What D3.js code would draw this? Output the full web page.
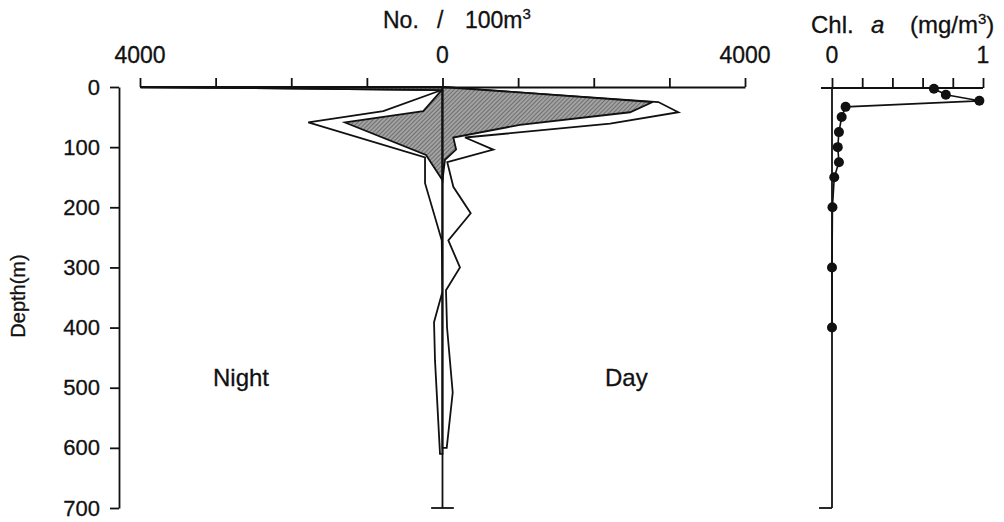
<!DOCTYPE html>
<html><head><meta charset="utf-8">
<script src="https://cdn.jsdelivr.net/npm/d3@7"></script>
<style>
body{margin:0;background:#fff}
text{font-family:"Liberation Sans",Arial,Helvetica,sans-serif;fill:#111;stroke:#111;stroke-width:0.3px}
</style>
</head><body>
<svg id="c" width="1004" height="522"></svg>
<script>
// ---- data ----
const nightTotalDepth  = [0, 5, 40, 59, 117, 160, 255, 340, 391, 455, 610];
const nightTotal       = [4000, 10, 783, 1775, 231, 231, 10, 0, 112, 99, 33];
const nightShadedDepth = [0, 5, 40, 59, 113, 155];
const nightShaded      = [4000, 10, 254, 1290, 218, 0];
const dayTotalDepth    = [0, 25, 42, 61, 84, 104, 125, 166, 210, 255, 300, 338, 400, 508, 600];
const dayTotal         = [0, 2854, 3119, 2216, 298, 672, 63, 143, 373, 77, 231, 46, 60, 135, 56];
const dayShadedDepth   = [0, 25, 42, 63, 84, 104, 121, 155];
const dayShaded        = [0, 2780, 2480, 1025, 143, 180, 33, 0];
const chlDepth = [3, 13, 23, 33, 50, 75, 100, 125, 150, 200, 300, 400];
const chlValue = [0.675, 0.754, 0.976, 0.09, 0.064, 0.046, 0.038, 0.046, 0.015, 0.003, 0, 0];
const depthTicks = [0, 100, 200, 300, 400, 500, 600, 700];
const countTicks = [-4000, -3000, -2000, -1000, 0, 1000, 2000, 3000, 4000];
const countLabelValues = [-4000, 0, 4000];
const countLabels = ["4000", "0", "4000"];
const chlTicks = [0, 0.2, 0.4, 0.6, 0.8, 1];
const chlLabelValues = [0, 1];
const chlLabels = ["0", "1"];

// ---- layout ----
const svg = d3.select("#c");
const x = d3.scaleLinear().domain([-4000, 4000]).range([140, 745]);
const y = d3.scaleLinear().domain([0, 700]).range([87, 508]);
const xc = d3.scaleLinear().domain([0, 1]).range([832, 983]);
const SW = 1.8;

// hatch pattern
const defs = svg.append("defs");
const pat = defs.append("pattern").attr("id","hatch").attr("patternUnits","userSpaceOnUse")
  .attr("width",3).attr("height",3).attr("patternTransform","rotate(45)");
pat.append("rect").attr("width",3).attr("height",3).attr("fill","#a2a2a2");
pat.append("line").attr("x1",0).attr("y1",0).attr("x2",0).attr("y2",3)
  .attr("stroke","#3c3c3c").attr("stroke-width",1);

function series(depths, vals, sign){ return depths.map((d,i)=>({d, v: sign*vals[i]})); }
const area = d3.area().x0(x(0)).x1(p=>x(p.v)).y(p=>y(p.d));

const g = svg.append("g");
[[nightTotalDepth,nightTotal,-1],[dayTotalDepth,dayTotal,1]].forEach(([dd,vv,s])=>{
  g.append("path").datum(series(dd,vv,s)).attr("d",area)
   .attr("fill","#fff").attr("stroke","#111").attr("stroke-width",SW).attr("stroke-linejoin","miter");
});
[[nightShadedDepth,nightShaded,-1],[dayShadedDepth,dayShaded,1]].forEach(([dd,vv,s])=>{
  g.append("path").datum(series(dd,vv,s)).attr("d",area)
   .attr("fill","url(#hatch)").attr("stroke","#111").attr("stroke-width",SW).attr("stroke-linejoin","miter");
});

// top count axis
const topAx = svg.append("g").attr("transform",`translate(0,${y(0)})`)
  .call(d3.axisTop(x).tickValues(countTicks).tickSize(9).tickSizeOuter(0).tickFormat(""));
topAx.selectAll("path,line").attr("stroke","#111").attr("stroke-width",SW);
svg.selectAll(".cl").data(countLabelValues).join("text")
  .attr("x",d=>x(d)).attr("y",63).attr("text-anchor","middle").style("font-size","23px")
  .text((d,i)=>countLabels[i]);

// zero line with bottom tick
svg.append("line").attr("x1",x(0)).attr("x2",x(0)).attr("y1",y(0)).attr("y2",y(700))
  .attr("stroke","#111").attr("stroke-width",SW);
svg.append("line").attr("x1",x(-150)).attr("x2",x(150)).attr("y1",y(700)).attr("y2",y(700))
  .attr("stroke","#111").attr("stroke-width",SW);

// depth axis
const leftAx = svg.append("g").attr("transform","translate(119,0)")
  .call(d3.axisLeft(y).tickValues(depthTicks).tickSize(9).tickSizeOuter(0).tickPadding(10));
leftAx.selectAll("path,line").attr("stroke","#111").attr("stroke-width",SW);
leftAx.selectAll("text").style("font-size","22px").attr("fill","#111")
  .style("font-family",'"Liberation Sans",Arial,sans-serif');
svg.append("text").attr("transform",`translate(25,296) rotate(-90)`).attr("text-anchor","middle")
  .style("font-size","20px").text("Depth(m)");

// title
const t = svg.append("text").attr("y",28).style("font-size","23px");
t.append("tspan").attr("x",383).text("No.");
t.append("tspan").attr("x",437).text("/");
t.append("tspan").attr("x",465).text("100m");
t.append("tspan").style("font-size","15px").attr("dy",-9).text("3");

svg.append("text").attr("x",213).attr("y",386).style("font-size","24px").text("Night");
svg.append("text").attr("x",605).attr("y",386).style("font-size","24px").text("Day");

// chlorophyll panel
const chlAx = svg.append("g").attr("transform",`translate(0,88)`)
  .call(d3.axisTop(xc).tickValues(chlTicks).tickSize(10).tickSizeOuter(0).tickFormat(""));
chlAx.select(".domain").remove();
chlAx.selectAll("line").attr("stroke","#111").attr("stroke-width",SW);
svg.append("line").attr("x1",xc(-0.073)).attr("x2",xc(1)).attr("y1",88).attr("y2",88)
  .attr("stroke","#111").attr("stroke-width",SW);
svg.append("line").attr("x1",xc(0)).attr("x2",xc(0)).attr("y1",88).attr("y2",y(700))
  .attr("stroke","#111").attr("stroke-width",SW);
svg.append("line").attr("x1",xc(-0.086)).attr("x2",xc(0)).attr("y1",y(700)).attr("y2",y(700))
  .attr("stroke","#111").attr("stroke-width",SW);
svg.selectAll(".chll").data(chlLabelValues).join("text")
  .attr("x",d=>xc(d)).attr("y",63).attr("text-anchor","middle").style("font-size","23px")
  .text((d,i)=>chlLabels[i]);
const chlData = chlDepth.map((d,i)=>({d, v: chlValue[i]}));
svg.append("path").datum(chlData)
  .attr("d", d3.line().x(p=>xc(p.v)).y(p=>y(p.d)))
  .attr("fill","none").attr("stroke","#111").attr("stroke-width",1.6);
svg.selectAll(".dot").data(chlData).join("circle")
  .attr("cx",p=>xc(p.v)).attr("cy",p=>y(p.d)).attr("r",5).attr("fill","#111");

const ct = svg.append("text").attr("y",33).style("font-size","24px");
ct.append("tspan").attr("x",811).text("Chl.");
ct.append("tspan").attr("x",871).attr("font-style","italic").text("a");
ct.append("tspan").attr("x",910).text("(mg/m");
ct.append("tspan").style("font-size","15px").attr("dy",-9).text("3");
ct.append("tspan").attr("dy",9).text(")");
</script>
</body></html>
